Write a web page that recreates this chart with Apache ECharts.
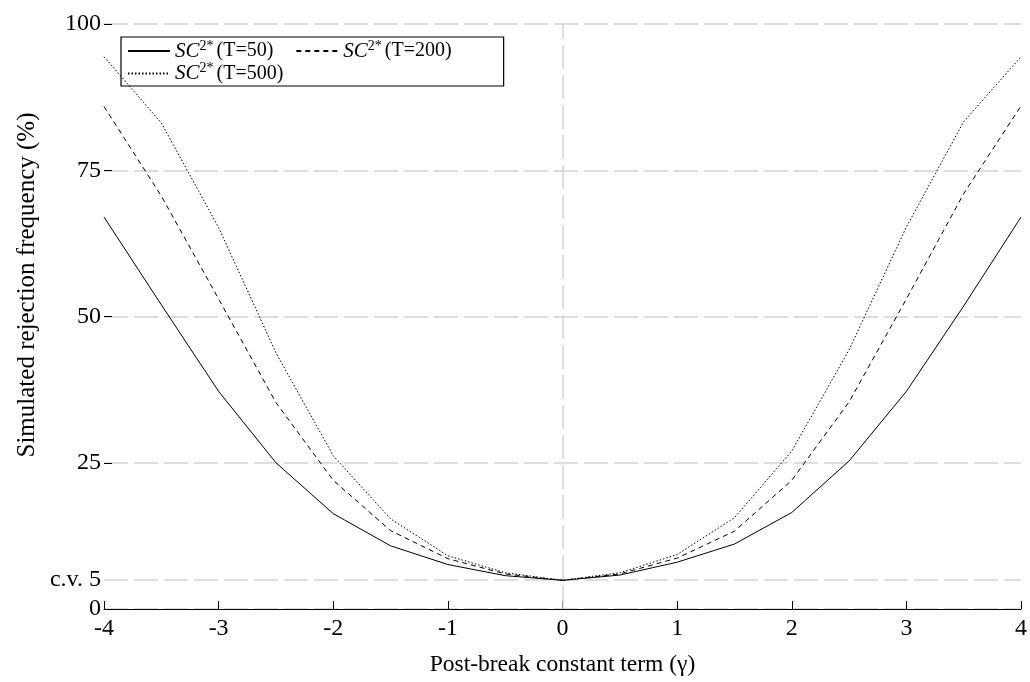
<!DOCTYPE html>
<html><head><meta charset="utf-8">
<script src="https://cdn.jsdelivr.net/npm/echarts@6/dist/echarts.min.js"></script>
<style>html,body{margin:0;padding:0;background:#fff}#c{width:1030px;height:682px}</style>
</head><body><div id="c"></div>
<script>
const gamma = [-4,-3.5,-3,-2.5,-2,-1.5,-1,-0.5,0,0.5,1,1.5,2,2.5,3,3.5,4];
const t50  = [67.0,52.0,37.2,25.0,16.3,10.8,7.6,5.7,4.9,5.8,8.0,11.1,16.5,25.3,37.2,51.8,67.0];
const t200 = [85.9,70.6,53.0,35.3,22.0,13.4,8.6,6.0,4.9,6.0,8.7,13.3,22.0,35.4,53.0,71.0,86.0];
const t500 = [94.4,83.1,65.2,43.8,26.2,15.4,9.1,6.2,4.9,6.2,9.3,15.6,27.0,44.3,65.3,83.3,94.4];
const seriesNames = ['T=50','T=200','T=500'];
const cvLevel = 5;
const cvLabel = 'c.v. 5';
const xTitle = 'Post-break constant term (γ)';
const yTitle = 'Simulated rejection frequency (%)';

const FONT = 'Liberation Serif';
const gridStyle = {color:'#d4d4d4', width:1.5, type:[24,6]};
function pts(vals){ return gamma.map((g,i)=>[g, vals[i]]); }

const chart = echarts.init(document.getElementById('c'), null, {renderer:'canvas'});
chart.setOption({
  animation:false,
  backgroundColor:'#fff',
  textStyle:{fontFamily:FONT, color:'#000'},
  grid:{left:104, right:8, top:24, bottom:67, containLabel:false},
  graphic:[{
    type:'text', x:27, y:285, rotation:Math.PI/2,
    style:{text:yTitle, font:'25px "Liberation Serif"', fill:'#000', align:'center', verticalAlign:'middle'}
  }],
  legend:{
    left:121, top:37, orient:'horizontal', width:360,
    padding:[2,30,2,6], itemGap:0, itemWidth:42, itemHeight:10,
    borderColor:'#000', borderWidth:1.2,
    itemStyle:{opacity:0},
    data:seriesNames,
    formatter:function(n){ return '{i|SC}{s|2*} {t|(' + n + ')}'; },
    textStyle:{fontFamily:FONT, color:'#000', rich:{
      i:{fontFamily:FONT, fontStyle:'italic', fontSize:21, lineHeight:24, color:'#000'},
      s:{fontFamily:FONT, fontSize:14, lineHeight:24, verticalAlign:'top', padding:[0,0,8,0], color:'#000'},
      t:{fontFamily:FONT, fontSize:20, lineHeight:24, padding:[0,22,0,0], color:'#000'}
    }}
  },
  xAxis:{
    type:'value', min:-4, max:4, interval:1,
    name:xTitle, nameLocation:'middle', nameGap:44,
    nameTextStyle:{fontFamily:FONT, fontSize:23.5, color:'#000'},
    axisLine:{show:true, onZero:false, lineStyle:{color:'#000', width:1}},
    axisTick:{show:true, inside:true, length:8, lineStyle:{color:'#000'}},
    axisLabel:{fontFamily:FONT, fontSize:24, color:'#000', margin:8},
    splitLine:{show:false}
  },
  yAxis:{
    type:'value', min:0, max:100, interval:25,
    axisLine:{show:false, onZero:false},
    axisTick:{show:true, inside:true, length:8, lineStyle:{color:'#000'}},
    axisLabel:{fontFamily:FONT, fontSize:24, color:'#000', margin:3},
    splitLine:{show:true, lineStyle:gridStyle}
  },
  series:[
    {name:seriesNames[0], type:'line', data:pts(t50), symbol:'none', showSymbol:false,
     lineStyle:{color:'#000', width:1, type:'solid'}, itemStyle:{color:'#000'}, z:5,
     markLine:{silent:true, symbol:'none', z:1, lineStyle:gridStyle,
       data:[
         {yAxis:cvLevel, label:{show:true, position:'start', formatter:cvLabel, fontFamily:FONT, fontSize:24, color:'#000', distance:3}},
         {xAxis:0, label:{show:false}}
       ]}},
    {name:seriesNames[1], type:'line', data:pts(t200), symbol:'none', showSymbol:false,
     lineStyle:{color:'#000', width:1, type:[5,4]}, itemStyle:{color:'#000'}, z:5},
    {name:seriesNames[2], type:'line', data:pts(t500), symbol:'none', showSymbol:false,
     lineStyle:{color:'#000', width:1, type:[1.5,2]}, itemStyle:{color:'#000'}, z:5}
  ]
});
</script></body></html>
